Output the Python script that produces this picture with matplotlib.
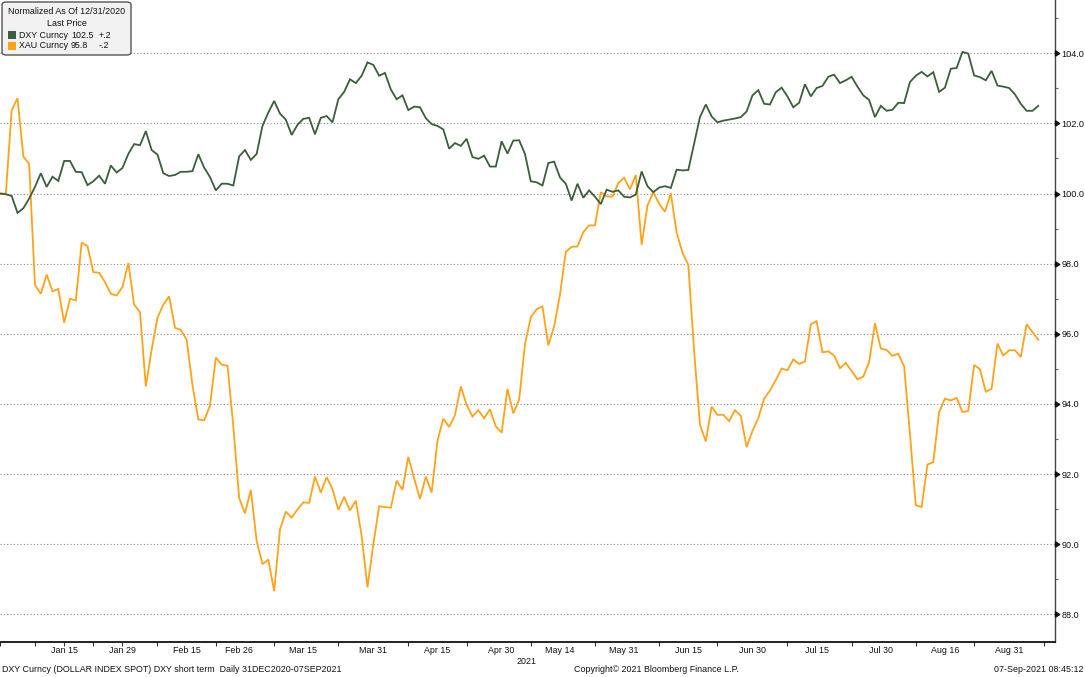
import matplotlib
matplotlib.use("Agg")
import matplotlib.pyplot as plt
from matplotlib.patches import FancyBboxPatch, Rectangle
import pandas as pd

# ---- data (normalized to 100 at 31-Dec-2020), one value per weekday ----
dates = pd.bdate_range("2020-12-31", "2021-09-07")

dxy = [
    100.00, 99.98, 99.93, 99.45, 99.58, 99.86, 100.19, 100.58, 100.19, 100.48,
    100.36, 100.93, 100.93, 100.62, 100.61, 100.24, 100.35, 100.51, 100.28, 100.80,
    100.60, 100.73, 101.13, 101.41, 101.38, 101.78, 101.24, 101.11, 100.58, 100.50,
    100.53, 100.62, 100.62, 100.64, 101.12, 100.74, 100.47, 100.09, 100.28, 100.28,
    100.23, 101.06, 101.24, 100.96, 101.13, 101.93, 102.31, 102.64, 102.28, 102.11,
    101.67, 101.96, 102.13, 102.16, 101.69, 102.16, 102.21, 102.03, 102.69, 102.90,
    103.26, 103.15, 103.36, 103.74, 103.67, 103.36, 103.44, 102.97, 102.69, 102.80,
    102.38, 102.48, 102.46, 102.15, 101.98, 101.93, 101.83, 101.28, 101.44, 101.36,
    101.56, 101.04, 100.99, 101.08, 100.77, 100.77, 101.49, 101.14, 101.51, 101.52,
    101.13, 100.35, 100.32, 100.23, 100.87, 100.91, 100.46, 100.28, 99.80, 100.28,
    99.88, 100.09, 99.91, 99.70, 100.11, 100.05, 100.09, 99.91, 99.89, 99.97,
    100.63, 100.21, 100.04, 100.17, 100.21, 100.16, 100.68, 100.66, 100.67, 101.42,
    102.18, 102.54, 102.20, 102.03, 102.08, 102.11, 102.14, 102.18, 102.34, 102.80,
    102.95, 102.56, 102.54, 102.89, 103.02, 102.77, 102.46, 102.59, 103.12, 102.77,
    103.01, 103.07, 103.33, 103.39, 103.15, 103.23, 103.33, 103.05, 102.80, 102.67,
    102.18, 102.50, 102.36, 102.39, 102.59, 102.58, 103.18, 103.36, 103.47, 103.34,
    103.46, 102.90, 103.02, 103.56, 103.58, 104.04, 103.99, 103.37, 103.32, 103.23,
    103.50, 103.08, 103.05, 103.01, 102.83, 102.56, 102.36, 102.36, 102.50,
]

xau = [
    100.00, 100.00, 102.37, 102.72, 101.06, 100.84, 97.39, 97.14, 97.69, 97.21,
    97.28, 96.32, 97.00, 96.95, 98.60, 98.50, 97.76, 97.74, 97.47, 97.14,
    97.09, 97.34, 98.02, 96.83, 96.62, 94.50, 95.55, 96.46, 96.83, 97.07,
    96.17, 96.11, 95.83, 94.53, 93.56, 93.53, 93.95, 95.32, 95.12, 95.09,
    93.36, 91.32, 90.88, 91.55, 90.09, 89.43, 89.56, 88.66, 90.42, 90.93,
    90.76, 90.99, 91.19, 91.18, 91.93, 91.47, 91.91, 91.57, 90.98, 91.35,
    90.96, 91.24, 90.24, 88.77, 89.99, 91.08, 91.06, 91.04, 91.81, 91.55,
    92.49, 91.88, 91.29, 91.93, 91.47, 92.95, 93.58, 93.34, 93.68, 94.50,
    93.97, 93.64, 93.82, 93.59, 93.85, 93.36, 93.18, 94.43, 93.73, 94.12,
    95.70, 96.47, 96.70, 96.78, 95.67, 96.21, 97.11, 98.34, 98.48, 98.49,
    98.90, 99.09, 99.09, 100.04, 99.92, 99.91, 100.30, 100.45, 100.12, 100.53,
    98.54, 99.66, 100.04, 99.71, 99.48, 100.01, 98.89, 98.31, 97.97, 95.50,
    93.41, 92.93, 93.92, 93.69, 93.69, 93.51, 93.82, 93.66, 92.77, 93.23,
    93.59, 94.15, 94.38, 94.68, 95.01, 94.96, 95.27, 95.14, 95.21, 96.27,
    96.36, 95.47, 95.50, 95.38, 95.02, 95.17, 94.94, 94.70, 94.78, 95.19,
    96.30, 95.58, 95.54, 95.37, 95.43, 95.07, 93.15, 91.11, 91.06, 92.27,
    92.34, 93.77, 94.15, 94.10, 94.17, 93.77, 93.80, 95.11, 94.99, 94.35,
    94.43, 95.72, 95.38, 95.53, 95.53, 95.34, 96.27, 96.05, 95.83,
]

series_names = ["DXY Curncy", "XAU Curncy"]
last_values = ["102.5", "95.8"]
changes = ["+.2", "-.2"]

label_dates = ["2021-01-15", "2021-01-29", "2021-02-15", "2021-02-26",
               "2021-03-15", "2021-03-31", "2021-04-15", "2021-04-30",
               "2021-05-14", "2021-05-31", "2021-06-15", "2021-06-30",
               "2021-07-15", "2021-07-30", "2021-08-16", "2021-08-31"]
label_texts = ["Jan 15", "Jan 29", "Feb 15", "Feb 26", "Mar 15", "Mar 31",
               "Apr 15", "Apr 30", "May 14", "May 31", "Jun 15", "Jun 30",
               "Jul 15", "Jul 30", "Aug 16", "Aug 31"]
tick_idx = [0, 6, 11, 16, 21, 27, 37, 47, 58, 70, 80, 91, 102, 113, 123,
            135, 146, 157, 167, 179]
y_major = [88, 90, 92, 94, 96, 98, 100, 102, 104]
y_minor = [89, 91, 93, 95, 97, 99, 101, 103, 105]

# ---- style ----
FONT = "Liberation Sans"
FS = 6.4
plt.rcParams["font.family"] = [FONT, "DejaVu Sans"]
C_DXY = "#3b5e3b"
C_XAU = "#ffa31a"
TXT = "#111111"
W, H = 1085, 677

fig = plt.figure(figsize=(W / 100, H / 100), dpi=100)
ax = fig.add_axes([0, 1 - 642 / H, 1055 / W, 642 / H])

x = list(range(len(dates)))
ax.plot(x, xau, color=C_XAU, lw=1.3, solid_joinstyle="miter", zorder=3)
ax.plot(x, dxy, color=C_DXY, lw=1.3, solid_joinstyle="miter", zorder=4)

ax.set_xlim(0, 1055 / 5.833)
ax.set_ylim(87.21, 105.52)

for s in ["left", "top"]:
    ax.spines[s].set_visible(False)
ax.spines["bottom"].set_color("#111111")
ax.spines["bottom"].set_linewidth(1.3)
ax.spines["right"].set_color("#444444")
ax.spines["right"].set_linewidth(1.0)

# y axis on the right, major ticks drawn as small triangles
ax.yaxis.tick_right()
ax.set_yticks(y_major)
ax.set_yticks(y_minor, minor=True)
ax.set_yticklabels([f"{v:.1f}" for v in y_major], fontsize=FS + 0.2, color=TXT)
ax.tick_params(axis="y", which="major", length=0, pad=4.6)
ax.tick_params(axis="y", which="minor", length=2.5, width=0.8, color="#666666")
ax.yaxis.grid(True, which="major", linestyle=(0, (1, 2)), color="#8a8a8a", lw=0.8)
tri = [(0, -1), (0, 1), (1.6, 0), (0, -1)]
ax.plot([1.0] * len(y_major), y_major, linestyle="none", marker=tri,
        markersize=6, color="#111111", transform=ax.get_yaxis_transform(),
        clip_on=False, zorder=6)

# x axis: ticks at fixed trading days, labels at named dates
ax.xaxis.remove_overlapping_locs = False
label_pos = [dates.get_loc(pd.Timestamp(d)) for d in label_dates]
ax.set_xticks(tick_idx)
ax.set_xticklabels([""] * len(tick_idx))
ax.tick_params(axis="x", which="major", length=3, width=0.8, color="#333333")
ax.set_xticks(label_pos, minor=True)
ax.set_xticklabels(label_texts, minor=True, fontsize=FS, color=TXT)
ax.tick_params(axis="x", which="minor", length=0, pad=3)

fig.text(527 / W, 1 - 661 / H, "2021", fontsize=FS, ha="center", va="center",
         color=TXT)

# footer
fig.text(2 / W, 1 - 669 / H, "DXY Curncy (DOLLAR INDEX SPOT) DXY short term  Daily 31DEC2020-07SEP2021",
         fontsize=FS, ha="left", va="center", color=TXT)
fig.text(574 / W, 1 - 669 / H, "Copyright\u00a9 2021 Bloomberg Finance L.P.",
         fontsize=FS, ha="left", va="center", color=TXT)
fig.text(1083 / W, 1 - 669 / H, "07-Sep-2021 08:45:12",
         fontsize=FS, ha="right", va="center", color=TXT)

# legend box
box = FancyBboxPatch((2 / W, 1 - 55 / H), 129 / W, 53 / H,
                     boxstyle="round,pad=0,rounding_size=0.004",
                     transform=fig.transFigure, facecolor="#f2f2f2",
                     edgecolor="#555555", lw=1.0, zorder=10)
fig.patches.append(box)
fig.text(67 / W, 1 - 12 / H, "Normalized As Of 12/31/2020", fontsize=FS,
         ha="center", va="center", color=TXT, zorder=11)
fig.text(67 / W, 1 - 23 / H, "Last Price", fontsize=FS, ha="center",
         va="center", color=TXT, zorder=11)
for i, (nm, lv, ch, col) in enumerate(zip(series_names, last_values, changes,
                                          [C_DXY, C_XAU])):
    yy = 35 + 11 * i
    fig.patches.append(Rectangle((8 / W, 1 - (yy + 4) / H), 8 / W, 8 / H,
                                 transform=fig.transFigure, facecolor=col,
                                 edgecolor="none", zorder=11))
    fig.text(19 / W, 1 - yy / H, nm, fontsize=FS, ha="left", va="center",
             color=TXT, zorder=11)
    fig.text(71 / W, 1 - yy / H, lv, fontsize=FS, ha="left", va="center",
             color=TXT, zorder=11)
    fig.text(99 / W, 1 - yy / H, ch, fontsize=FS, ha="left", va="center",
             color=TXT, zorder=11)

fig.savefig("out.png", dpi=100)
